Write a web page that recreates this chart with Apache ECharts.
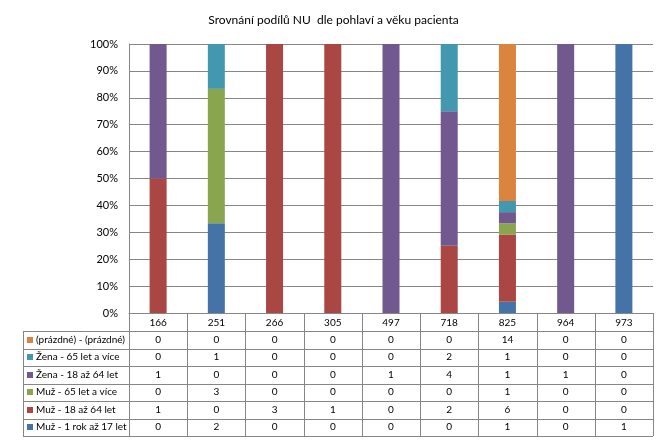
<!DOCTYPE html>
<html><head><meta charset="utf-8">
<script src="https://cdn.jsdelivr.net/npm/echarts@6/dist/echarts.min.js"></script>
<style>html,body{margin:0;padding:0;background:#fff}#c{width:667px;height:442px}</style>
</head><body><div id="c"></div>
<script>
const categories = ['166','251','266','305','497','718','825','964','973'];
// series in stacking order (bottom to top)
const seriesNames = ['Muž - 1 rok až 17 let','Muž - 18 až 64 let','Muž - 65 let a více','Žena - 18 až 64 let','Žena - 65 let a více','(prázdné) - (prázdné)'];
const muz1_17   = [0,2,0,0,0,0,1,0,1];
const muz18_64  = [1,0,3,1,0,2,6,0,0];
const muz65     = [0,3,0,0,0,0,1,0,0];
const zena18_64 = [1,0,0,0,1,4,1,1,0];
const zena65    = [0,1,0,0,0,2,1,0,0];
const prazdne   = [0,0,0,0,0,0,14,0,0];
const yTicks = [0,10,20,30,40,50,60,70,80,90,100];

const counts = [muz1_17, muz18_64, muz65, zena18_64, zena65, prazdne];
const colors = ['#4572A7','#AA4643','#89A54E','#71588F','#4198AF','#DB843D'];
const totals = categories.map((c,i)=>counts.reduce((s,a)=>s+a[i],0));

const G = {left:129, top:44, width:524, height:269};
const FONT = 'Lato, "Open Sans", sans-serif';
const lineColor = '#868686';

const chart = echarts.init(document.getElementById('c'), null, {renderer:'canvas'});

const series = counts.map((arr,k)=>({
  name: seriesNames[k], type:'bar', stack:'all', barWidth:17,
  itemStyle:{color:colors[k]},
  data: arr.map((v,i)=> totals[i] ? v/totals[i]*100 : 0)
}));

// table graphics
const graphics = [];
const colW = G.width / categories.length;
const tableTop = G.top + G.height;
const headerH = 18;
const rowH = 17.5;
const tableLeft = 23;
const nRows = counts.length;
const tableBottom = tableTop + headerH + nRows*rowH;
const right = G.left + G.width;
const ls = {stroke:lineColor, lineWidth:1};
function hline(x1,x2,y){ y=Math.round(y)+0.5; graphics.push({type:'line',shape:{x1,y1:y,x2,y2:y},style:ls,silent:true}); }
function vline(x,y1,y2){ x=Math.round(x)+0.5; graphics.push({type:'line',shape:{x1:x,y1,x2:x,y2},style:ls,silent:true}); }
// vertical lines
for(let i=0;i<=categories.length;i++){ vline(G.left + i*colW, tableTop, tableBottom); }
vline(tableLeft, tableTop+headerH, tableBottom);
// horizontal lines
for(let r=0;r<=nRows;r++){ hline(tableLeft, right, tableTop+headerH + r*rowH); }
// header labels
categories.forEach((c,i)=>{
  graphics.push({type:'text',silent:true,style:{text:c,x:G.left+(i+0.5)*colW,y:tableTop+headerH/2+1,textAlign:'center',textVerticalAlign:'middle',font:'10px '+FONT,fill:'#000'}});
});
// rows: top row is last series
for(let r=0;r<nRows;r++){
  const k = nRows-1-r;
  const yc = tableTop+headerH + r*rowH + rowH/2;
  graphics.push({type:'rect',silent:true,shape:{x:tableLeft+4,y:Math.round(yc)-3,width:6,height:6},style:{fill:colors[k]}});
  graphics.push({type:'text',silent:true,style:{text:seriesNames[k],x:tableLeft+13,y:yc,textAlign:'left',textVerticalAlign:'middle',font:'10px '+FONT,fill:'#000'}});
  counts[k].forEach((v,i)=>{
    graphics.push({type:'text',silent:true,style:{text:String(v),x:G.left+(i+0.5)*colW,y:yc,textAlign:'center',textVerticalAlign:'middle',font:'10px '+FONT,fill:'#000'}});
  });
}

chart.setOption({
  animation:false,
  backgroundColor:'#fff',
  title:{text:'Srovnání podílů NU  dle pohlaví a věku pacienta', left:'center', top:9,
    textStyle:{fontSize:12,fontWeight:'normal',color:'#000',fontFamily:FONT}},
  grid:{left:G.left, top:G.top, width:G.width, height:G.height},
  xAxis:{type:'category', data:categories,
    axisLine:{lineStyle:{color:lineColor}}, axisTick:{show:false}, axisLabel:{show:false}},
  yAxis:{type:'value', min:0, max:100, interval:10,
    axisLine:{show:true,lineStyle:{color:lineColor}}, axisTick:{show:false},
    splitLine:{lineStyle:{color:lineColor}},
    axisLabel:{formatter:v=> yTicks.includes(v)? v+'%' : '', color:'#000', fontSize:11, fontFamily:FONT, margin:11}},
  series,
  graphic: graphics
});
</script></body></html>
